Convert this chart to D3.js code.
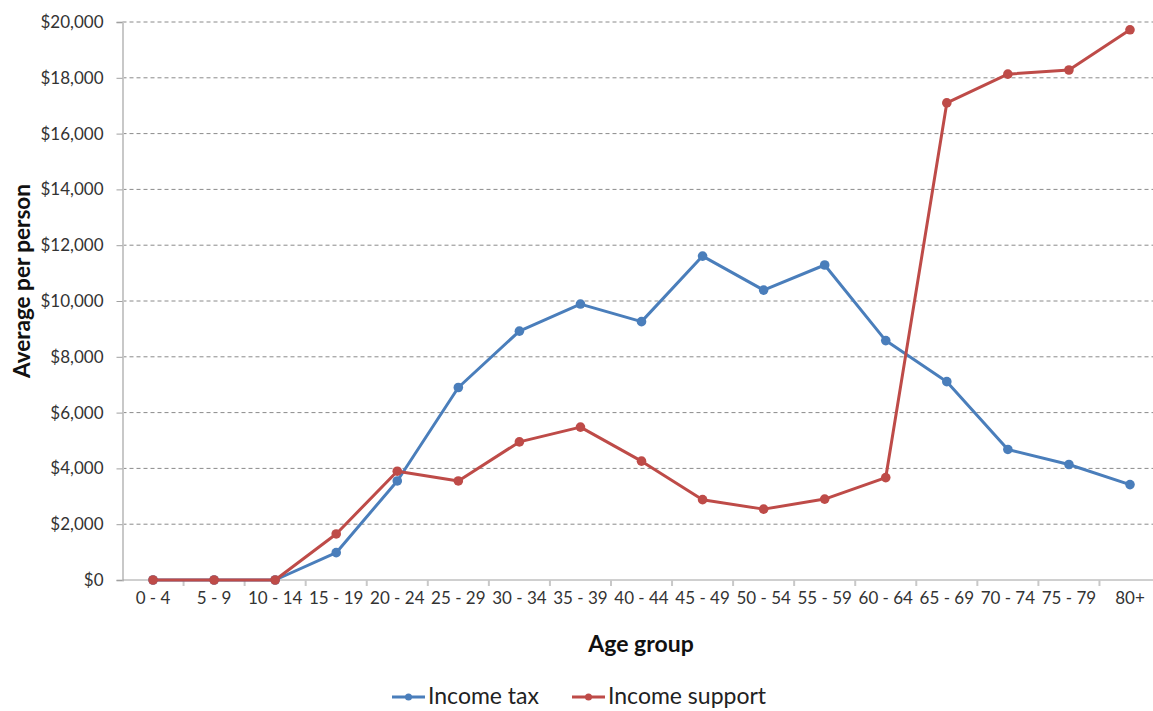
<!DOCTYPE html>
<html>
<head>
<meta charset="utf-8">
<script src="https://cdn.jsdelivr.net/npm/d3@7"></script>
<style>
  body { margin: 0; background: #fff; }
  svg { display: block; font-family: Lato, "Open Sans", sans-serif; }
</style>
</head>
<body>
<svg id="chart"></svg>
<script>
// ── Data ─────────────────────────────────────────────────────────────────
const ageGroups = ["0 - 4", "5 - 9", "10 - 14", "15 - 19", "20 - 24", "25 - 29", "30 - 34",
    "35 - 39", "40 - 44", "45 - 49", "50 - 54", "55 - 59", "60 - 64", "65 - 69",
    "70 - 74", "75 - 79", "80+"];
const incomeTax = [0, 0, 0, 980, 3550, 6900, 8920, 9890, 9260, 11610, 10390, 11290,
    8580, 7110, 4680, 4140, 3420];
const incomeSupport = [0, 0, 0, 1650, 3900, 3550, 4950, 5480, 4260, 2880, 2540, 2900,
    3670, 17100, 18130, 18280, 19720];
const yTicks = [0, 2000, 4000, 6000, 8000, 10000, 12000, 14000, 16000, 18000, 20000];

const series = [
    { name: "Income tax",     values: incomeTax,     color: "#4a7ebb" },
    { name: "Income support", values: incomeSupport, color: "#be4b48" }
];

const W = 1153, H = 711;
const margin = { top: 22, left: 122.5 };
const bandW = 61.06;
const plotW = bandW * ageGroups.length;
const plotH = 580 - margin.top;

const svg = d3.select("#chart").attr("width", W).attr("height", H);
const g = svg.append("g").attr("transform", `translate(${margin.left},${margin.top})`);

// ── Scales ───────────────────────────────────────────────────────────────
const x = d3.scaleBand().domain(ageGroups).range([0, plotW]);
const y = d3.scaleLinear().domain([0, 20000]).range([plotH, 0]);

// ── Gridlines ────────────────────────────────────────────────────────────
g.append("g")
    .selectAll("line")
    .data(yTicks.filter(d => d > 0))
    .join("line")
    .attr("x1", 0).attr("x2", plotW)
    .attr("y1", d => y(d)).attr("y2", d => y(d))
    .attr("stroke", "#8a8a8a")
    .attr("stroke-width", 1)
    .attr("stroke-dasharray", "4,3");

// ── Y Axis ───────────────────────────────────────────────────────────────
g.append("g")
    .call(d3.axisLeft(y).tickValues(yTicks).tickSize(6).tickPadding(13)
        .tickFormat(d => "$" + d3.format(",")(d)))
    .attr("font-family", null)
    .attr("font-size", null)
    .call(a => a.select(".domain").attr("stroke", "#c8c8c8").attr("stroke-width", 2))
    .call(a => a.selectAll(".tick line").attr("stroke", "#a0a0a0"))
    .call(a => a.selectAll("text").attr("font-size", 17).attr("fill", "#333"));

// ── X Axis ───────────────────────────────────────────────────────────────
const xa = g.append("g").attr("transform", `translate(0,${plotH})`);
xa.append("line")
    .attr("x1", 0).attr("x2", plotW)
    .attr("stroke", "#a0a0a0").attr("stroke-width", 1);
xa.selectAll(".xt")
    .data(ageGroups)
    .join("line")
    .attr("class", "xt")
    .attr("x1", d => x(d) + x.bandwidth()).attr("x2", d => x(d) + x.bandwidth())
    .attr("y1", 0).attr("y2", 6)
    .attr("stroke", "#c8c8c8").attr("stroke-width", 2);
xa.selectAll(".xl")
    .data(ageGroups)
    .join("text")
    .attr("class", "xl")
    .attr("x", d => x(d) + x.bandwidth() / 2)
    .attr("y", 24)
    .attr("text-anchor", "middle")
    .attr("font-size", 17)
    .attr("fill", "#333")
    .text(d => d);

// ── Lines & markers ──────────────────────────────────────────────────────
const line = d3.line()
    .x((d, i) => x(ageGroups[i]) + x.bandwidth() / 2)
    .y(d => y(d));

series.forEach(s => {
    g.append("path")
        .datum(s.values)
        .attr("fill", "none")
        .attr("stroke", s.color)
        .attr("stroke-width", 3)
        .attr("stroke-linejoin", "round")
        .attr("d", line);
    g.append("g")
        .selectAll("circle")
        .data(s.values)
        .join("circle")
        .attr("cx", (d, i) => x(ageGroups[i]) + x.bandwidth() / 2)
        .attr("cy", d => y(d))
        .attr("r", 4.8)
        .attr("fill", s.color);
});

// ── Axis titles ──────────────────────────────────────────────────────────
svg.append("text")
    .attr("x", 641).attr("y", 652)
    .attr("text-anchor", "middle")
    .attr("font-size", 23).attr("font-weight", "bold")
    .attr("fill", "#111")
    .text("Age group");

svg.append("text")
    .attr("transform", "rotate(-90)")
    .attr("x", -281).attr("y", 30)
    .attr("text-anchor", "middle")
    .attr("font-size", 22.5).attr("font-weight", "bold")
    .attr("fill", "#111")
    .text("Average per person");

// ── Legend ───────────────────────────────────────────────────────────────
const legendX = [392, 572];
const legend = svg.append("g");
series.forEach((s, i) => {
    const lg = legend.append("g").attr("transform", `translate(${legendX[i]},697)`);
    lg.append("line").attr("x1", 0).attr("x2", 33)
        .attr("stroke", s.color).attr("stroke-width", 3);
    lg.append("circle").attr("cx", 16.5).attr("r", 3.5).attr("fill", s.color);
    lg.append("text").attr("x", 36).attr("y", 7)
        .attr("font-size", 23).attr("fill", "#222")
        .text(s.name);
});
</script>
</body>
</html>
